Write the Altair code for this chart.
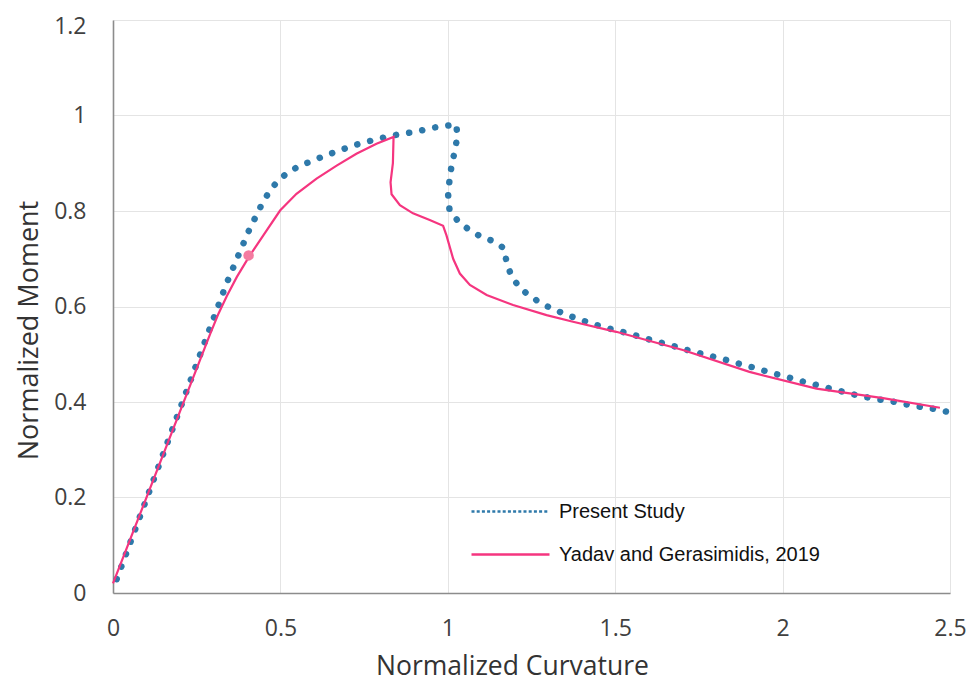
import altair as alt
import pandas as pd

# Present Study (dotted)
ps_x = [0.011, 0.311, 0.339, 0.372, 0.406, 0.443, 0.466, 0.491, 0.521, 0.558, 0.596, 0.633,
        0.670, 0.709, 0.747, 0.787, 0.827, 0.866, 0.906, 0.946, 0.986, 1.026, 1.028, 1.020,
        1.011, 1.005, 1.001, 1.005, 1.029, 1.061, 1.097, 1.135, 1.168, 1.176, 1.190, 1.215,
        1.247, 1.281, 1.316, 1.354, 1.393, 1.432, 1.470, 1.510, 1.548, 1.588, 1.626, 1.666,
        1.704, 1.742, 1.782, 1.822, 1.860, 1.899, 1.938, 1.977, 2.015, 2.054, 2.094, 2.133,
        2.172, 2.211, 2.251, 2.291, 2.329, 2.369, 2.409, 2.449, 2.488]
ps_y = [0.029, 0.595, 0.648, 0.703, 0.759, 0.812, 0.840, 0.862, 0.880, 0.895, 0.905, 0.916,
        0.925, 0.935, 0.943, 0.950, 0.957, 0.962, 0.966, 0.973, 0.978, 0.981, 0.953, 0.923,
        0.894, 0.864, 0.834, 0.803, 0.780, 0.762, 0.747, 0.737, 0.722, 0.691, 0.664, 0.639,
        0.621, 0.606, 0.594, 0.583, 0.573, 0.564, 0.556, 0.549, 0.542, 0.534, 0.526, 0.519,
        0.511, 0.504, 0.497, 0.490, 0.482, 0.475, 0.467, 0.459, 0.452, 0.444, 0.437, 0.430,
        0.423, 0.416, 0.410, 0.405, 0.401, 0.395, 0.390, 0.386, 0.380]

# Yadav and Gerasimidis, 2019 (solid)
yg_x = [0.0, 0.290, 0.315, 0.340, 0.370, 0.406, 0.449, 0.499, 0.548, 0.608, 0.668, 0.727,
        0.787, 0.838, 0.836, 0.829, 0.832, 0.857, 0.896, 0.946, 0.986, 0.996, 1.016, 1.036,
        1.066, 1.116, 1.195, 1.295, 1.374, 1.503, 1.702, 1.901, 2.101, 2.300, 2.470]
yg_y = [0.020, 0.542, 0.585, 0.622, 0.662, 0.704, 0.749, 0.801, 0.836, 0.868, 0.895, 0.920,
        0.941, 0.955, 0.900, 0.860, 0.835, 0.812, 0.795, 0.781, 0.769, 0.749, 0.700, 0.669,
        0.645, 0.624, 0.603, 0.582, 0.568, 0.547, 0.509, 0.463, 0.428, 0.408, 0.388]

marker_x = [0.405]
marker_y = [0.707]

series = ["Present Study", "Yadav and Gerasimidis, 2019"]
colors = ["#2e79aa", "#f5357f"]

df_ps = pd.DataFrame({"x": ps_x, "y": ps_y, "i": range(len(ps_x)), "s": series[0]})
df_yg = pd.DataFrame({"x": yg_x, "y": yg_y, "i": range(len(yg_x)), "s": series[1]})
df_pt = pd.DataFrame({"x": marker_x, "y": marker_y})

FONT = "Open Sans"

xs = alt.Scale(domain=[0, 2.5], nice=False, zero=False)
ys = alt.Scale(domain=[0, 1.2], nice=False, zero=False)

xax = alt.Axis(values=[0, 0.5, 1, 1.5, 2, 2.5], format="~g", title="Normalized Curvature",
               ticks=False, labelPadding=24, titleX=399, titleY=81, titleBaseline="alphabetic",
               titleAlign="center", labelFlush=False, titleFontSize=26.5)
yax = alt.Axis(values=[0, 0.2, 0.4, 0.6, 0.8, 1, 1.2], format="~g", title="Normalized Moment",
               ticks=False, labelPadding=27, titleX=-76, titleY=310, titleAngle=270,
               titleBaseline="alphabetic", titleAlign="center", titleFontSize=27,
               labelOffset=alt.ExprRef(expr="datum.value >= 1.2 ? 6 : 0"))

leg_common = dict(title=None, orient="none", symbolType="stroke", symbolSize=6084,
                  labelFont="Liberation Sans", labelFontSize=20, labelColor="#111111",
                  labelOffset=8, padding=0, labelLimit=0)

dots = alt.Chart(df_ps).mark_line(strokeDash=[0.1, 13.2], strokeCap="round", strokeWidth=6.5).encode(
    x=alt.X("x:Q", scale=xs, axis=xax),
    y=alt.Y("y:Q", scale=ys, axis=yax),
    order="i:Q",
    color=alt.Color("s:N", scale=alt.Scale(domain=[series[0]], range=[colors[0]]),
                    legend=alt.Legend(legendX=357, legendY=451, symbolDash=[3, 2.2],
                                      symbolStrokeWidth=2.5, symbolStrokeColor="#4b5fd6",
                                      **leg_common)),
)

line = alt.Chart(df_yg).mark_line(strokeWidth=2.2).encode(
    x="x:Q",
    y="y:Q",
    order="i:Q",
    stroke=alt.Stroke("s:N", scale=alt.Scale(domain=[series[1]], range=[colors[1]]),
                      legend=alt.Legend(legendX=357, legendY=494, symbolStrokeWidth=2.5,
                                        **leg_common)),
)

pt = alt.Chart(df_pt).mark_circle(size=110, color="#f47ba0", opacity=1).encode(
    x="x:Q", y="y:Q"
)

chart = alt.layer(dots, line, pt).resolve_scale(color="independent", stroke="independent").properties(
    width=837, height=573,
    autosize=alt.AutoSizeParams(type="none"),
    padding={"left": 105, "top": 12, "right": 17, "bottom": 94},
).configure_view(stroke=None).configure_axis(
    labelFont=FONT, labelFontSize=23, labelColor="#404040",
    titleFont=FONT, titleColor="#333333", titleFontWeight="normal",
    domainColor="#8c8c8c", domainWidth=1.6,
    gridColor="#e4e4e4", gridWidth=1,
)

chart.save("out.html", embed_options={"renderer": "svg", "actions": False})
